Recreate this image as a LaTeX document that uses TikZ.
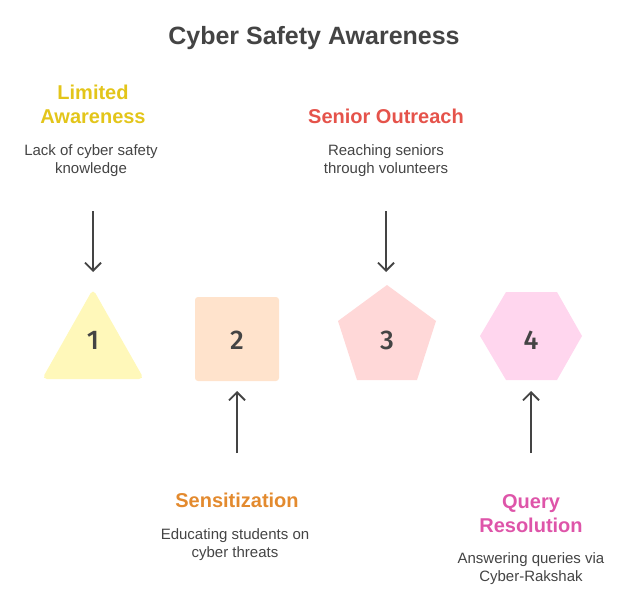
\documentclass[tikz,border=0pt]{standalone}
\usepackage{fontspec}
\setmainfont{Liberation Sans}
\newfontfamily\numfont{Fira Sans Medium}
\usetikzlibrary{arrows.meta}
\definecolor{ink}{HTML}{444444}
\definecolor{cyel}{HTML}{E3C51A}
\definecolor{cred}{HTML}{E5534B}
\definecolor{corg}{HTML}{E38A2E}
\definecolor{cpnk}{HTML}{DE55A9}
\definecolor{fyel}{HTML}{FFF8BA}
\definecolor{forg}{HTML}{FFE3CC}
\definecolor{fred}{HTML}{FFD8D8}
\definecolor{fpnk}{HTML}{FFD6EE}
\tikzset{
  title/.style={font=\fontsize{25}{30}\selectfont\bfseries, text=ink},
  head/.style={font=\fontsize{20}{24}\selectfont\bfseries, align=center, inner sep=0pt},
  desc/.style={font=\fontsize{15}{18}\selectfont, text=ink, align=center, inner sep=0pt},
  num/.style={font=\numfont\fontsize{27}{30}\selectfont, text=ink},
  arr/.style={draw=ink, line width=1.8pt, -{Straight Barb[length=8pt,width=16pt,line width=1.8pt]}},
}
\begin{document}
\begin{tikzpicture}[x=1pt,y=-1pt]
\useasboundingbox (0,0) rectangle (625,594);
\node[title] (t) at (314,38) {Cyber Safety Awareness};
% shapes
\fill[fyel, rounded corners=5pt] (93,289) -- (144,379) -- (42,379) -- cycle;
\fill[forg, rounded corners=3pt] (195,297) rectangle (279,381);
\fill[fred] (387,285) -- (436,321) -- (417,380) -- (357,380) -- (338,321) -- cycle;
\fill[fpnk] (506,292) -- (557,292) -- (582,336) -- (557,380) -- (506,380) -- (480,336) -- cycle;
\node[num] (n1) at (93,340) {1};
\node[num] (n2) at (237,340) {2};
\node[num] (n3) at (387,340) {3};
\node[num] (n4) at (531,340) {4};
% texts
\node[head, text=cyel] (h1) at (93,104) {Limited\\Awareness};
\node[desc] (d1) at (91,161) {Lack of cyber safety\\knowledge};
\node[head, text=cred] (h3) at (386,116) {Senior Outreach};
\node[desc] (d3) at (386,161) {Reaching seniors\\through volunteers};
\node[head, text=corg] (h2) at (237,500) {Sensitization};
\node[desc] (d2) at (235,545) {Educating students on\\cyber threats};
\node[head, text=cpnk] (h4) at (531,514) {Query\\Resolution};
\node[desc] (d4) at (531,569) {Answering queries via\\Cyber-Rakshak};
% arrows
\coordinate (s1) at (93,211); \coordinate (e1) at (93,272);
\coordinate (s3) at (386,211); \coordinate (e3) at (386,272);
\coordinate (s2) at (237,453); \coordinate (e2) at (237,391);
\coordinate (s4) at (531,453); \coordinate (e4) at (531,391);
\draw[arr] (s1) -- (e1);
\draw[arr] (s3) -- (e3);
\draw[arr] (s2) -- (e2);
\draw[arr] (s4) -- (e4);
\end{tikzpicture}
\end{document}
